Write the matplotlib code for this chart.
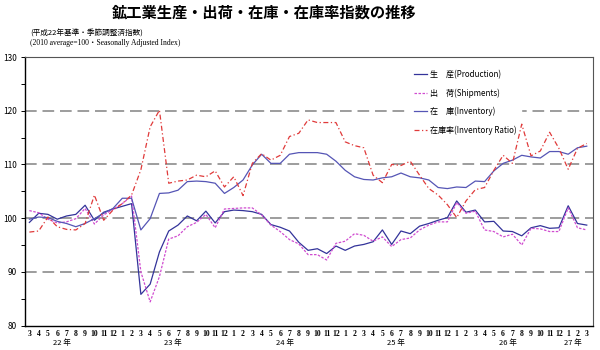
import numpy as np
import matplotlib
matplotlib.use('Agg')
import matplotlib.pyplot as plt
from matplotlib.ticker import MultipleLocator

plt.rcParams['font.family'] = ['Noto Sans CJK JP', 'DejaVu Sans']

#month labels from 22年3月 to 27年3月
months = [3, 4, 5, 6, 7, 8, 9, 10, 11, 12] + list(range(1, 13)) * 4 + [1, 2, 3]
year_labels = ['22 年', '23 年', '24 年', '25 年', '26 年', '27 年']
year_pos = [3.5, 15.5, 27.5, 39.5, 51.5, 58.5]

production = [99.2, 100.9, 100.7, 99.8, 100.4, 100.7, 102.4, 99.6, 101.1, 101.7, 102.2, 102.7, 85.8, 87.7,
              93.7, 97.6, 98.7, 100.4, 99.5, 101.3, 99.1, 101.2, 101.5, 101.4, 101.2, 100.7, 98.8, 98.3, 97.6, 95.5,
              94.0, 94.3, 93.4, 94.8, 94.0, 94.8, 95.1, 95.6, 97.8, 95.1, 97.6, 97.1, 98.5, 99.0, 99.6,
              100.1, 103.2, 101.1, 101.5, 99.3, 99.4, 97.6, 97.5, 96.7, 98.2, 98.6, 98.1, 98.2, 102.3, 99.0, 98.7]
shipments = [101.4, 101.0, 99.8, 99.1, 99.3, 99.9, 101.8, 98.9, 100.6, 101.6, 102.7, 104.1, 90.0, 84.4,
             89.1, 96.1, 96.7, 98.4, 99.2, 100.7, 98.2, 101.7, 101.8, 101.9, 101.9, 100.6, 98.7, 97.5, 96.0, 95.2,
             93.2, 93.2, 92.2, 95.3, 95.7, 97.1, 96.8, 95.7, 96.5, 94.7, 96.0, 96.3, 97.8, 98.7, 99.3,
             99.3, 102.9, 100.9, 101.3, 97.8, 97.5, 96.5, 97.0, 95.0, 98.1, 98.0, 97.5, 97.5, 101.9, 98.2, 97.8]
inventory = [99.8, 100.2, 100.1, 99.4, 99.0, 98.4, 99.0, 99.9, 100.9, 101.8, 103.7, 103.7, 97.8, 99.9,
             104.6, 104.7, 105.2, 106.8, 106.9, 106.8, 106.5, 104.6, 105.7, 107.1, 109.9, 111.9, 110.2, 110.2, 111.9, 112.2,
             112.2, 112.2, 111.9, 110.6, 108.9, 107.7, 107.2, 107.1, 107.5, 107.7, 108.4, 107.7, 107.5, 107.1, 105.7,
             105.5, 105.8, 105.7, 106.9, 106.8, 108.8, 110.2, 110.8, 111.7, 111.4, 111.2, 112.4, 112.4, 111.9, 113.1, 113.4]
inv_ratio = [97.4, 97.6, 100.2, 98.4, 97.9, 97.8, 99.0, 104.3, 99.6, 101.5, 102.7, 104.3, 109.0, 117.0,
             120.1, 106.5, 106.9, 107.1, 108.0, 107.7, 108.8, 105.8, 107.7, 104.2, 110.2, 112.0, 110.8, 111.7, 115.2, 115.8,
             118.3, 117.8, 117.8, 117.8, 114.2, 113.5, 113.1, 108.0, 106.6, 110.0, 109.8, 110.6, 108.0, 105.5, 104.3,
             102.5, 100.1, 103.2, 105.3, 105.7, 108.9, 111.7, 110.2, 117.5, 111.6, 112.5, 116.0, 113.0, 109.1, 113.0, 113.9]

x = np.arange(len(months))

fig = plt.figure(figsize=(6, 3.5), dpi=100)
ax = fig.add_axes([0.042, 0.070, 0.946, 0.767])

#dashed grid lines
for v in [90, 100, 110, 120]:
    ax.axhline(v, color='#8c8c8c', lw=1.2, ls=(0, (7, 3.5)), zorder=1)

ax.plot(x, production, color='#33339a', lw=0.9, label='生　産(Production)', zorder=3)
ax.plot(x, shipments, color='#d04cd0', lw=0.9, ls=(0, (2, 1.2)), label='出　荷(Shipments)', zorder=3)
ax.plot(x, inventory, color='#5555b5', lw=0.9, label='在　庫(Inventory)', zorder=3)
ax.plot(x, inv_ratio, color='#e03a3a', lw=0.9, ls=(0, (4, 2, 1, 2)), label='在庫率(Inventory Ratio)', zorder=3)

ax.set_xlim(-0.45, 60.65)
ax.set_ylim(80, 130)
ax.yaxis.set_major_locator(MultipleLocator(10))
ax.yaxis.set_minor_locator(MultipleLocator(5))
ax.tick_params(axis='y', which='both', direction='out', length=3, width=0.7, labelsize=6, pad=3)
ax.set_xticks(x)
ax.set_xticklabels([str(m) for m in months], fontsize=5.5, fontweight='bold',
                   family=['Liberation Serif', 'DejaVu Serif'])
ax.tick_params(axis='x', length=0, pad=3)

for lab, p in zip(year_labels, year_pos):
    ax.text(p, -0.066, lab, transform=ax.get_xaxis_transform(), ha='center', va='center', fontsize=5.5)

for s in ['left', 'bottom']:
    ax.spines[s].set_color('black')
    ax.spines[s].set_linewidth(1.0)
for s in ['top', 'right']:
    ax.spines[s].set_color('#555555')
    ax.spines[s].set_linewidth(0.8)

leg = ax.legend(loc='upper left', bbox_to_anchor=(0.67, 0.985), frameon=True, fontsize=5.8,
                handlelength=1.6, handletextpad=0.3, labelspacing=1.15, borderpad=0.6)
leg.get_frame().set_edgecolor('white')
leg.get_frame().set_facecolor('white')
leg.get_frame().set_alpha(1.0)
leg.get_frame().set_boxstyle('square', pad=0)
leg.set_zorder(2)

fig.text(0.44, 0.965, '鉱工業生産・出荷・在庫・在庫率指数の推移', ha='center', va='center',
         fontsize=11, fontweight='bold')
fig.text(0.05, 0.905, '(平成22年基準・季節調整済指数)', ha='left', va='center', fontsize=5.5)
fig.text(0.05, 0.878, '(2010 average=100・Seasonally Adjusted Index)', ha='left', va='center', fontsize=5.5,
         family=['Liberation Serif', 'Noto Sans CJK JP'])

fig.savefig('out.png', dpi=100)
